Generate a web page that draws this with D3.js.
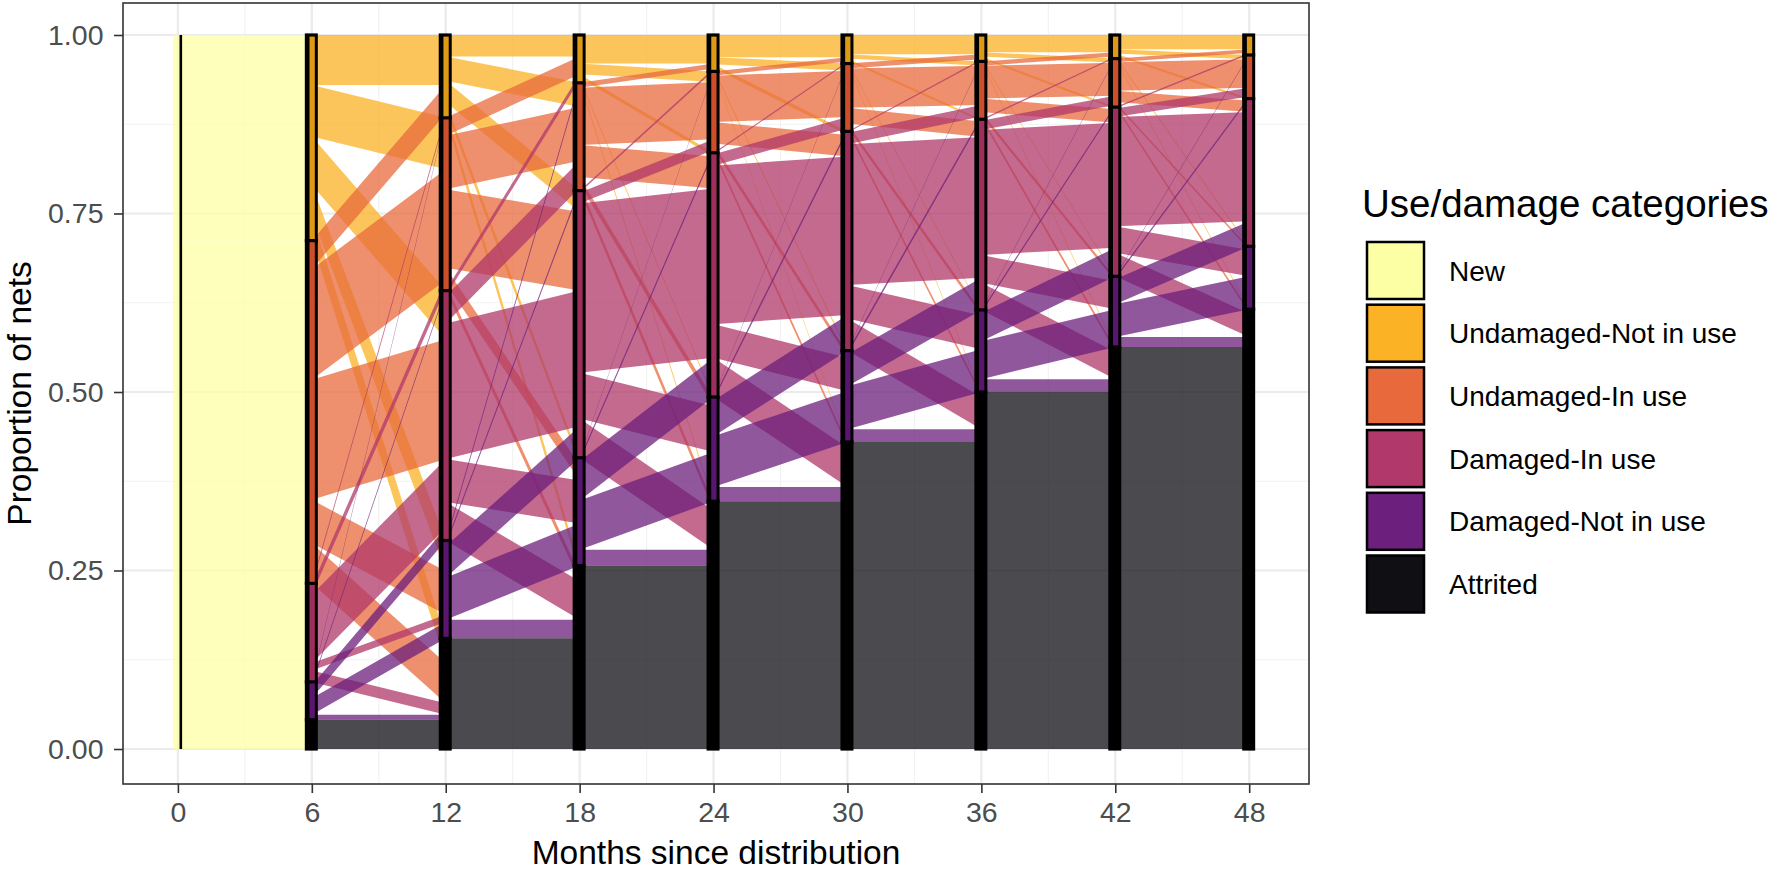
<!DOCTYPE html>
<html><head><meta charset="utf-8">
<script src="https://cdn.jsdelivr.net/npm/d3@7"></script>
<style>
body{margin:0;background:#fff;}
svg{display:block;}
text{font-family:"Liberation Sans", Arial, Helvetica, sans-serif;}
</style>
</head><body>
<svg id="chart" width="1771" height="872"></svg>
<script>
// ---------- data ----------
const categories = ["Undamaged-Not in use","Undamaged-In use","Damaged-In use","Damaged-Not in use","Attrited"];
const legendLabels = ["New","Undamaged-Not in use","Undamaged-In use","Damaged-In use","Damaged-Not in use","Attrited"];
const legendColors = ["#FCFFA4","#FBB224","#E86A3C","#B0386A","#6C1F7C","#0F0F14"];
const strataInner = ["#DE9A14","#CC4E2B","#9E2F5D","#5A166E","#000000"];
const months = [0,6,12,18,24,30,36,42,48];
const xTicks = [0,6,12,18,24,30,36,42,48];
const yTicks = [0,0.25,0.5,0.75,1];
const xMinorTicks = [3,9,15,21,27,33,39,45];
const yMinorTicks = [0.125,0.375,0.625,0.875];

// proportion moving from New (month 0) to each category at month 6
const fromNew = [0.288,0.480,0.138,0.053,0.041];
// transition matrices: rows = origin category, columns = destination category
const flows_6_12 = [
 [0.070,0.072,0.068,0.043,0.035],
 [0.040,0.155,0.168,0.061,0.056],
 [0.004,0.012,0.096,0.010,0.016],
 [0.002,0.003,0.018,0.023,0.007],
 [0,0,0,0,0.041]];
const flows_12_18 = [
 [0.030,0.034,0.030,0.010,0.012],
 [0.025,0.075,0.110,0.022,0.010],
 [0.008,0.038,0.190,0.060,0.054],
 [0.004,0.004,0.044,0.059,0.026],
 [0,0,0,0,0.155]];
const flows_18_24 = [
 [0.040,0.015,0.005,0.003,0.004],
 [0.007,0.080,0.045,0.010,0.009],
 [0.003,0.015,0.237,0.064,0.055],
 [0.001,0.004,0.055,0.069,0.022],
 [0,0,0,0,0.257]];
const flows_24_30 = [
 [0.031,0.010,0.005,0.003,0.002],
 [0.006,0.065,0.030,0.007,0.006],
 [0.002,0.016,0.222,0.047,0.055],
 [0.001,0.004,0.050,0.071,0.020],
 [0,0,0,0,0.347]];
const flows_30_36 = [
 [0.027,0.006,0.003,0.002,0.002],
 [0.007,0.055,0.022,0.006,0.005],
 [0.002,0.016,0.197,0.047,0.045],
 [0.001,0.004,0.045,0.060,0.018],
 [0,0,0,0,0.430]];
const flows_36_42 = [
 [0.024,0.006,0.003,0.002,0.002],
 [0.006,0.046,0.019,0.005,0.005],
 [0.002,0.013,0.175,0.039,0.038],
 [0.001,0.003,0.040,0.053,0.018],
 [0,0,0,0,0.500]];
const flows_42_48 = [
 [0.020,0.006,0.003,0.002,0.002],
 [0.005,0.040,0.016,0.003,0.004],
 [0.002,0.012,0.153,0.037,0.033],
 [0.001,0.003,0.035,0.046,0.014],
 [0,0,0,0,0.563]];
const transitions = [flows_6_12,flows_12_18,flows_18_24,flows_24_30,flows_30_36,flows_36_42,flows_42_48];

// ---------- layout ----------
const svg = d3.select("#chart");
const panel = {left:123, right:1309, top:3, bottom:784};
const xs = d3.scaleLinear().domain([-2.46,50.68]).range([panel.left,panel.right]);
const ys = d3.scaleLinear().domain([0,1]).range([749,35]);
const alpha = 0.75;

// grid
const grid = svg.append("g");
grid.selectAll(".ym").data(yMinorTicks).join("line")
  .attr("x1",panel.left).attr("x2",panel.right).attr("y1",d=>ys(d)).attr("y2",d=>ys(d))
  .attr("stroke","#F2F2F2").attr("stroke-width",1.2);
grid.selectAll(".xm").data(xMinorTicks).join("line")
  .attr("y1",panel.top).attr("y2",panel.bottom).attr("x1",d=>xs(d)).attr("x2",d=>xs(d))
  .attr("stroke","#F2F2F2").attr("stroke-width",1.2);
grid.selectAll(".yM").data(yTicks).join("line")
  .attr("x1",panel.left).attr("x2",panel.right).attr("y1",d=>ys(d)).attr("y2",d=>ys(d))
  .attr("stroke","#EBEBEB").attr("stroke-width",2.2);
grid.selectAll(".xM").data(xTicks).join("line")
  .attr("y1",panel.top).attr("y2",panel.bottom).attr("x1",d=>xs(d)).attr("x2",d=>xs(d))
  .attr("stroke","#EBEBEB").attr("stroke-width",2.2);

// build flows
const flowList = [];
{
  let cum = 1;
  fromNew.forEach((v,j)=>{
    flowList.push({t0:0,t1:6,a0:cum,b0:cum-v,a1:cum,b1:cum-v,color:legendColors[0],x0off:-5});
    cum -= v;
  });
}
transitions.forEach((M,k)=>{
  const t0 = months[k+1], t1 = months[k+2];
  const n = M.length;
  const rowSums = M.map(r=>d3.sum(r));
  const colSums = d3.range(n).map(j=>d3.sum(M,r=>r[j]));
  const oTop = [], dTop = [];
  let c = 1; rowSums.forEach((s,i)=>{oTop[i]=c; c-=s;});
  c = 1; colSums.forEach((s,j)=>{dTop[j]=c; c-=s;});
  const oCur = oTop.slice(), dCur = dTop.slice();
  const local = {};
  for(let i=0;i<n;i++){
    for(let j=0;j<n;j++){
      const v = M[i][j];
      if(v<=0) continue;
      const f = {t0,t1,a0:oCur[i],b0:oCur[i]-v,a1:null,b1:null,color:legendColors[i+1],x0off:0};
      oCur[i]-=v;
      local[i+"_"+j] = f;
      flowList.push(f);
    }
  }
  for(let j=0;j<n;j++){
    for(let i=0;i<n;i++){
      const f = local[i+"_"+j];
      if(!f) continue;
      const v = M[i][j];
      f.a1 = dCur[j]; f.b1 = dCur[j]-v; dCur[j]-=v;
    }
  }
});

const fg = svg.append("g");
fg.selectAll("path").data(flowList).join("path")
  .attr("d",f=>{
    const x0 = xs(f.t0)+f.x0off, x1 = xs(f.t1);
    return d3.line()([[x0,ys(f.a0)],[x1,ys(f.a1)],[x1,ys(f.b1)],[x0,ys(f.b0)]])+"Z";
  })
  .attr("fill",f=>f.color).attr("fill-opacity",alpha).attr("stroke","none");

// strata
const strata = [];
{
  let c=1;
  fromNew.forEach((v,j)=>{strata.push({t:6,j,top:c,bot:c-v}); c-=v;});
}
transitions.forEach((M,k)=>{
  const t = months[k+2];
  let c=1;
  for(let j=0;j<M.length;j++){
    const s = d3.sum(M,r=>r[j]);
    strata.push({t,j,top:c,bot:c-s}); c-=s;
  }
});
const sg = svg.append("g");
sg.selectAll("rect.outer").data(strata).join("rect").attr("class","outer")
  .attr("x",d=>xs(d.t)-7).attr("width",13)
  .attr("y",d=>ys(d.top)-1.6).attr("height",d=>ys(d.bot)-ys(d.top)+3.2)
  .attr("fill","#000");
sg.selectAll("rect.inner").data(strata.filter(d=>d.j<4 && (ys(d.bot)-ys(d.top))>4)).join("rect").attr("class","inner")
  .attr("x",d=>xs(d.t)-2.3).attr("width",5.3)
  .attr("y",d=>ys(d.top)+1.6).attr("height",d=>ys(d.bot)-ys(d.top)-3.2)
  .attr("fill",d=>strataInner[d.j]);
svg.append("rect").attr("x",xs(0)+1.6).attr("width",2.6)
  .attr("y",ys(1)).attr("height",ys(0)-ys(1)).attr("fill","#000");

// panel border
svg.append("rect").attr("x",panel.left).attr("y",panel.top)
  .attr("width",panel.right-panel.left).attr("height",panel.bottom-panel.top)
  .attr("fill","none").attr("stroke","#333333").attr("stroke-width",1.6);

// axes
const xAxis = svg.append("g").attr("transform",`translate(0,${panel.bottom})`)
  .call(d3.axisBottom(xs).tickValues(xTicks).tickSize(9).tickPadding(9).tickFormat(d3.format("d")));
const yAxis = svg.append("g").attr("transform",`translate(${panel.left},0)`)
  .call(d3.axisLeft(ys).tickValues(yTicks).tickSize(9).tickPadding(10.5).tickFormat(d3.format(".2f")));
[xAxis,yAxis].forEach(a=>{
  a.select(".domain").remove();
  a.selectAll(".tick line").attr("stroke","#333333").attr("stroke-width",1.6);
  a.selectAll(".tick text").attr("fill","#4D4D4D").style("font-size","28.5px")
   .style("font-family",'"Liberation Sans", Arial, sans-serif');
});

// axis titles
svg.append("text").attr("x",(panel.left+panel.right)/2).attr("y",864)
  .attr("text-anchor","middle").style("font-size","33.5px").attr("fill","#000")
  .text("Months since distribution");
svg.append("text").attr("transform",`translate(31,${(panel.top+panel.bottom)/2}) rotate(-90)`)
  .attr("text-anchor","middle").style("font-size","33.5px").attr("fill","#000")
  .text("Proportion of nets");

// legend
const lg = svg.append("g");
lg.append("text").attr("x",1362).attr("y",217).style("font-size","38.5px").attr("fill","#000")
  .text("Use/damage categories");
const keyY0 = 242, keyStep = 62.7, keySize = 57;
lg.selectAll("rect.key").data(legendLabels).join("rect").attr("class","key")
  .attr("x",1367).attr("y",(d,i)=>keyY0+i*keyStep).attr("width",keySize).attr("height",keySize)
  .attr("fill",(d,i)=>legendColors[i]).attr("stroke","#000").attr("stroke-width",2.5);
lg.selectAll("text.lab").data(legendLabels).join("text").attr("class","lab")
  .attr("x",1449).attr("y",(d,i)=>keyY0+i*keyStep+keySize/2).attr("dy","0.36em")
  .style("font-size","28px").attr("fill","#000").text(d=>d);
</script>
</body></html>
